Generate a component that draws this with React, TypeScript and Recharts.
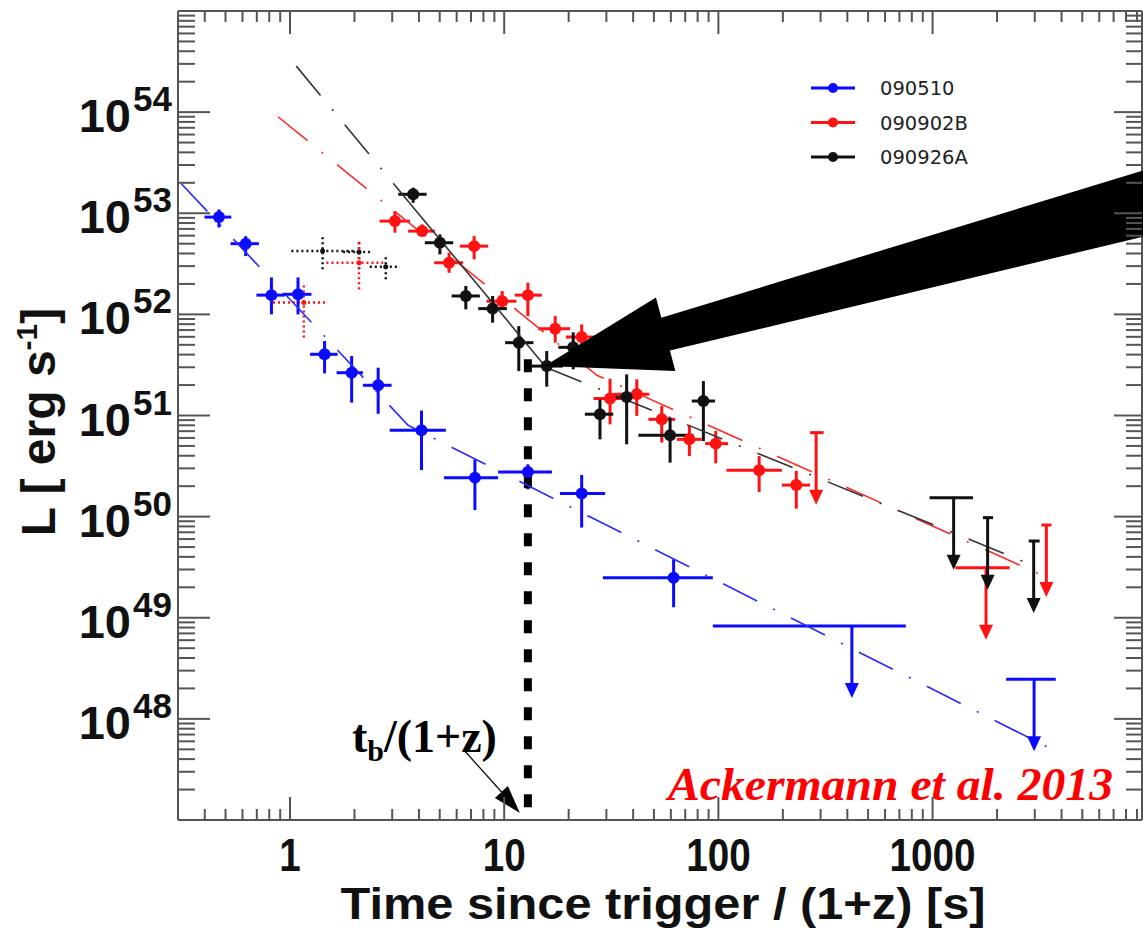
import React from "react";
import {
  ScatterChart,
  Scatter,
  XAxis,
  YAxis,
  ErrorBar,
  ReferenceLine,
  ReferenceDot,
} from "recharts";

// plot box (px), used for ticks drawn on the opposite frame sides
const PLOT_LEFT = 178;
const PLOT_RIGHT = 1142;
const PLOT_TOP = 11;
const PLOT_BOTTOM = 820;

const AXIS = "#555555";
const BLUE = "#0b0bff";
const RED = "#ff1212";
const BLACK = "#111111";
const SANS = "'Liberation Sans', Arial, sans-serif";

// [t, tLow, tHigh, L, LLow, LHigh]
const grb090510 = [
  [0.466, 0.399, 0.532, 9.16e52, 7.24e52, 1.09e53],
  [0.621, 0.528, 0.716, 5.0e52, 3.77e52, 5.94e52],
  [0.819, 0.697, 0.944, 1.55e52, 1.0e52, 2.32e52],
  [1.09, 0.924, 1.26, 1.58e52, 1.0e52, 2.32e52],
  [1.45, 1.24, 1.67, 4.03e51, 2.61e51, 5.45e51],
  [1.94, 1.65, 2.19, 2.65e51, 1.34e51, 3.87e51],
  [2.58, 2.19, 2.98, 1.99e51, 1.04e51, 2.97e51],
  [4.11, 2.92, 5.34, 7.13e50, 2.89e50, 1.12e51],
  [7.3, 5.23, 9.37, 2.43e50, 1.16e50, 3.68e50],
  [12.9, 9.37, 16.7, 2.76e50, 1.86e50, 3.29e50],
  [23.0, 18.2, 29.6, 1.69e50, 7.79e49, 2.58e50],
  [61.8, 28.9, 94.2, 2.49e49, 1.27e49, 3.79e49],
];

const grb090902B = [
  [3.09, 2.62, 3.63, 8.36e52, 6.42e52, 1.05e53],
  [4.14, 3.56, 4.74, 6.66e52, 5.94e52, 7.76e52],
  [5.53, 4.71, 6.43, 3.24e52, 2.58e52, 4.07e52],
  [7.24, 6.21, 8.42, 4.73e52, 3.5e52, 5.94e52],
  [9.79, 8.27, 11.4, 1.35e52, 1.12e52, 1.7e52],
  [12.9, 11.2, 15.0, 1.55e52, 9.62e51, 2.06e52],
  [17.3, 14.4, 20.3, 7.22e51, 5.25e51, 9.62e51],
  [23.0, 19.4, 27.1, 5.97e51, 4.51e51, 7.96e51],
  [31.2, 26.1, 37.3, 1.47e51, 8.18e50, 2.31e51],
  [41.6, 32.3, 47.6, 1.62e51, 9.88e50, 2.28e51],
  [54.4, 47.1, 62.8, 9.16e50, 5.39e50, 1.24e51],
  [73.2, 63.9, 83.6, 5.81e50, 3.97e50, 7.87e50],
  [97.2, 86.7, 111, 5.27e50, 3.37e50, 7.02e50],
  [155, 109, 198, 2.87e50, 1.75e50, 3.97e50],
  [231, 198, 268, 2.05e50, 1.2e50, 2.83e50],
];

const grb090926A = [
  [3.76, 3.2, 4.34, 1.54e53, 1.27e53, 1.79e53],
  [5.01, 4.26, 5.78, 5.11e52, 3.92e52, 6.18e52],
  [6.62, 5.68, 7.7, 1.52e52, 1.12e52, 1.91e52],
  [8.83, 7.56, 10.3, 1.14e52, 8.28e51, 1.52e52],
  [11.7, 10.1, 13.7, 5.25e51, 2.75e51, 7.66e51],
  [15.8, 13.4, 18.8, 3.08e51, 1.93e51, 4.34e51],
  [21.0, 17.9, 24.6, 4.72e51, 2.86e51, 6.64e51],
  [28.0, 23.8, 32.3, 1.03e51, 5.81e50, 1.44e51],
  [37.3, 31.8, 43.1, 1.52e51, 5.19e50, 2.55e51],
  [59.5, 42.3, 76.4, 6.37e50, 3.42e50, 9.53e50],
  [85.1, 75.1, 96.5, 1.39e51, 5.59e50, 2.19e51],
];

// dotted (prompt-phase) points, same layout
const dotted090926A = [
  [1.42, 1.015, 2.04, 4.23e52, 2.79e52, 5.94e52],
  [2.1, 1.77, 2.44, 4.13e52, 2.79e52, 5.31e52],
  [2.8, 2.36, 3.26, 2.96e52, 2.22e52, 3.92e52],
];
const dotted090902B = [
  [2.1, 1.48, 2.72, 3.24e52, 1.77e52, 5.31e52],
  [1.16, 0.833, 1.48, 1.31e52, 5.89e51, 2.06e52],
];

// upper limits [t, tLow, tHigh, L]
const ul090510 = [
  [420, 94.2, 750, 8.28e48],
  [2978, 2205, 3758, 2.46e48],
];
const ul090902B = [
  [286, 268, 310, 6.77e50],
  [1776, 1277, 2291, 3.13e49],
  [3398, 3221, 3589, 8.26e49],
];
const ul090926A = [
  [1254, 968, 1544, 1.54e50],
  [1807, 1720, 1915, 9.77e49],
  [2965, 2811, 3162, 5.74e49],
];

// fitted power laws [t, L]
const fit090510 = [
  [0.311, 1.96e53],
  [3.56, 8.0e50],
  [3608, 5.0e47],
];
const fit090902B = [
  [0.879, 9.0e53],
  [27.1, 2.5e51],
  [3303, 2.59e49],
];
const fit090926AEarly = [
  [1.07, 2.85e54],
  [3.6, 1.28e53],
];
const fit090926AMid = [
  [3.6, 1.28e53],
  [15.7, 2.99e51],
];
const fit090926ALate = [
  [15.7, 2.99e51],
  [3020, 3.23e49],
];

const T_BREAK = 12.9;
const T_BREAK_TOP = 3.6e51;

const X_LABELS = [1, 10, 100, 1000];
const X_DECADES = [0.1, 1, 10, 100, 1000];
const Y_DECADES = [1e47, 1e48, 1e49, 1e50, 1e51, 1e52, 1e53, 1e54];
const Y_LABEL_EXP = [48, 49, 50, 51, 52, 53, 54];

const legendItems = [
  { name: "090510", color: BLUE },
  { name: "090902B", color: RED },
  { name: "090926A", color: BLACK },
];

const X_MIN = 0.3;
const X_MAX = 9500;
const xTicks = X_DECADES.flatMap((d) =>
  [1, 2, 3, 4, 5, 6, 7, 8, 9].map((k) => k * d)
).filter((v) => v >= X_MIN - 1e-9 && v <= X_MAX);
const yTicks = [
  ...Y_DECADES.flatMap((d) => [1, 2, 3, 4, 5, 6, 7, 8, 9].map((k) => k * d)),
  1e55,
];

const toPoints = (rows: number[][]) =>
  rows.map(([t, tLo, tHi, L, LLo, LHi]) => ({
    t,
    L,
    ex: [t - tLo, tHi - t],
    ey: [L - LLo, LHi - L],
  }));

const toLimits = (rows: number[][]) =>
  rows.map(([t, tLo, tHi, L]) => ({ t, L, ex: [t - tLo, tHi - t] }));

const toLine = (rows: number[][]) => rows.map(([t, L]) => ({ t, L }));

const DASH_DOT = "38 18 2 18";

function XTick(props: any) {
  const { x, payload } = props;
  const v = payload.value;
  const major = X_LABELS.includes(v);
  const len = major ? 23 : 11;
  const label = String(v);
  return (
    <g>
      <line x1={x} x2={x} y1={PLOT_BOTTOM} y2={PLOT_BOTTOM - len} stroke={AXIS} strokeWidth={2} />
      <line x1={x} x2={x} y1={PLOT_TOP} y2={PLOT_TOP + len} stroke={AXIS} strokeWidth={2} />
      {major && (
        <text
          x={x}
          y={PLOT_BOTTOM + 51}
          textAnchor="middle"
          fontFamily={SANS}
          fontWeight={700}
          fontSize={46}
          fill="#111"
          textLength={label.length * 21.5}
          lengthAdjust="spacingAndGlyphs"
        >
          {label}
        </text>
      )}
    </g>
  );
}

function YTick(props: any) {
  const { y, payload } = props;
  const v = payload.value;
  const e = Math.round(Math.log10(v));
  const major = Math.abs(Math.log10(v) - e) < 1e-6;
  const lenL = major ? 32 : 17;
  const lenR = major ? 28 : 16;
  return (
    <g>
      <line x1={PLOT_LEFT} x2={PLOT_LEFT + lenL} y1={y} y2={y} stroke={AXIS} strokeWidth={2} />
      <line x1={PLOT_RIGHT} x2={PLOT_RIGHT - lenR} y1={y} y2={y} stroke={AXIS} strokeWidth={2} />
      {major && Y_LABEL_EXP.includes(e) && (
        <g fontFamily={SANS} fontWeight={700} fill="#111">
          <text x={131} y={y + 20} textAnchor="end" fontSize={47}>
            10
          </text>
          <text x={133} y={y - 1} textAnchor="start" fontSize={35}>
            {e}
          </text>
        </g>
      )}
    </g>
  );
}

const dotShape = (color: string, r: number) => (p: any) =>
  <circle cx={p.cx} cy={p.cy} r={r} fill={color} />;

const limitShape = (color: string) => (p: any) =>
  (
    <g>
      <line x1={p.cx} x2={p.cx} y1={p.cy} y2={p.cy + 60} stroke={color} strokeWidth={3} />
      <polygon
        points={`${p.cx - 7},${p.cy + 57} ${p.cx + 7},${p.cy + 57} ${p.cx},${p.cy + 72}`}
        fill={color}
      />
    </g>
  );

const noShape = () => <g />;

// big annotation arrow, tip on the break point
const bigArrow = (p: any) => {
  const tx = p.cx - 2;
  const ty = p.cy;
  const pts = [
    [0, 0],
    [130.6, 4.8],
    [125.2, -15.5],
    [704.9, -155.1],
    [687.5, -222.9],
    [116.6, -48.3],
    [111.2, -68.6],
  ]
    .map(([dx, dy]) => `${tx + dx},${ty + dy}`)
    .join(" ");
  return <polygon points={pts} fill="#000" />;
};

// t_b/(1+z) label with its thin arrow, anchored at the foot of the break line
const breakLabel = (p: any) => {
  const { cx, cy } = p;
  return (
    <g>
      <line x1={cx - 64} y1={cy - 70} x2={cx - 20} y2={cy - 21} stroke="#000" strokeWidth={1.2} />
      <polygon
        points={`${cx - 8},${cy - 7} ${cx - 20},${cy - 34} ${cx - 33},${cy - 22}`}
        fill="#000"
      />
      <text
        x={cx - 176}
        y={cy - 68}
        fontFamily="'Liberation Serif', 'DejaVu Serif', serif"
        fontWeight={700}
        fontSize={46}
        fill="#000"
      >
        t
        <tspan fontSize={30} dy={9}>
          b
        </tspan>
        <tspan dy={-9}>/(1+z)</tspan>
      </text>
    </g>
  );
};

export default function App() {
  const blue = toPoints(grb090510);
  const red = toPoints(grb090902B);
  const black = toPoints(grb090926A);

  return (
    <div
      style={{
        position: "absolute",
        left: 0,
        top: 0,
        width: 1143,
        height: 930,
        overflow: "hidden",
        background: "#fff",
      }}
    >
      <ScatterChart
        width={1150}
        height={930}
        margin={{ top: PLOT_TOP, right: 1150 - PLOT_RIGHT, bottom: 0, left: 0 }}
      >
        <XAxis
          type="number"
          dataKey="t"
          scale="log"
          domain={[X_MIN, X_MAX]}
          allowDataOverflow
          ticks={xTicks}
          interval={0}
          tick={XTick}
          tickLine={false}
          tickSize={0}
          tickMargin={0}
          height={110}
          axisLine={{ stroke: AXIS, strokeWidth: 2 }}
        />
        <YAxis
          type="number"
          dataKey="L"
          scale="log"
          domain={[1e47, 1e55]}
          allowDataOverflow
          ticks={yTicks}
          interval={0}
          tick={YTick}
          tickLine={false}
          tickSize={0}
          tickMargin={0}
          width={PLOT_LEFT}
          axisLine={{ stroke: AXIS, strokeWidth: 2 }}
        />
        <ReferenceLine y={1e55} stroke={AXIS} strokeWidth={2} />
        <ReferenceLine x={X_MAX} stroke={AXIS} strokeWidth={2} />

        <Scatter
          data={toLine(fit090510)}
          line={{ stroke: "#2a2aff", strokeWidth: 1.6, strokeDasharray: DASH_DOT }}
          shape={noShape}
          isAnimationActive={false}
        />
        <Scatter
          data={toLine(fit090902B)}
          line={{ stroke: "#ff2a2a", strokeWidth: 1.6, strokeDasharray: DASH_DOT }}
          shape={noShape}
          isAnimationActive={false}
        />
        <Scatter
          data={toLine(fit090926AEarly)}
          line={{ stroke: "#333", strokeWidth: 1.6, strokeDasharray: DASH_DOT }}
          shape={noShape}
          isAnimationActive={false}
        />
        <Scatter
          data={toLine(fit090926AMid)}
          line={{ stroke: "#333", strokeWidth: 1.6 }}
          shape={noShape}
          isAnimationActive={false}
        />
        <Scatter
          data={toLine(fit090926ALate)}
          line={{ stroke: "#333", strokeWidth: 1.6, strokeDasharray: DASH_DOT }}
          shape={noShape}
          isAnimationActive={false}
        />

        <Scatter data={toPoints(dotted090926A)} shape={dotShape(BLACK, 2.5)} isAnimationActive={false}>
          <ErrorBar dataKey="ex" direction="x" width={0} stroke={BLACK} strokeWidth={2.5} strokeDasharray="2 3" />
          <ErrorBar dataKey="ey" direction="y" width={0} stroke={BLACK} strokeWidth={2.5} strokeDasharray="2 3" />
        </Scatter>
        <Scatter data={toPoints(dotted090902B)} shape={dotShape(RED, 2.5)} isAnimationActive={false}>
          <ErrorBar dataKey="ex" direction="x" width={0} stroke={RED} strokeWidth={2.5} strokeDasharray="2 3" />
          <ErrorBar dataKey="ey" direction="y" width={0} stroke={RED} strokeWidth={2.5} strokeDasharray="2 3" />
        </Scatter>

        <Scatter data={blue} shape={dotShape(BLUE, 6)} isAnimationActive={false}>
          <ErrorBar dataKey="ex" direction="x" width={0} stroke={BLUE} strokeWidth={3} />
          <ErrorBar dataKey="ey" direction="y" width={0} stroke={BLUE} strokeWidth={3} />
        </Scatter>
        <Scatter data={red} shape={dotShape(RED, 6)} isAnimationActive={false}>
          <ErrorBar dataKey="ex" direction="x" width={0} stroke={RED} strokeWidth={3} />
          <ErrorBar dataKey="ey" direction="y" width={0} stroke={RED} strokeWidth={3} />
        </Scatter>
        <Scatter data={black} shape={dotShape(BLACK, 6)} isAnimationActive={false}>
          <ErrorBar dataKey="ex" direction="x" width={0} stroke={BLACK} strokeWidth={3} />
          <ErrorBar dataKey="ey" direction="y" width={0} stroke={BLACK} strokeWidth={3} />
        </Scatter>

        <Scatter data={toLimits(ul090510)} shape={limitShape(BLUE)} isAnimationActive={false}>
          <ErrorBar dataKey="ex" direction="x" width={0} stroke={BLUE} strokeWidth={3} />
        </Scatter>
        <Scatter data={toLimits(ul090902B)} shape={limitShape(RED)} isAnimationActive={false}>
          <ErrorBar dataKey="ex" direction="x" width={0} stroke={RED} strokeWidth={3} />
        </Scatter>
        <Scatter data={toLimits(ul090926A)} shape={limitShape(BLACK)} isAnimationActive={false}>
          <ErrorBar dataKey="ex" direction="x" width={0} stroke={BLACK} strokeWidth={3} />
        </Scatter>

        <ReferenceLine
          segment={[
            { x: T_BREAK, y: T_BREAK_TOP },
            { x: T_BREAK, y: 1e47 },
          ]}
          stroke="#000"
          strokeWidth={8}
          strokeDasharray="13 16"
        />
        <ReferenceDot x={T_BREAK} y={1e47} ifOverflow="visible" shape={breakLabel} />
        <ReferenceDot x={15.8} y={3.08e51} ifOverflow="visible" shape={bigArrow} />
      </ScatterChart>

      <svg
        width={1143}
        height={930}
        style={{ position: "absolute", left: 0, top: 0, pointerEvents: "none" }}
      >
        {legendItems.map((it, i) => {
          const y = 88 + i * 34.5;
          return (
            <g key={it.name}>
              <line x1={811} x2={855} y1={y} y2={y} stroke={it.color} strokeWidth={3} />
              <circle cx={833} cy={y} r={5} fill={it.color} />
              <text
                x={880}
                y={y + 7}
                fontFamily="'DejaVu Sans', sans-serif"
                fontSize={19.5}
                fill="#222"
              >
                {it.name}
              </text>
            </g>
          );
        })}
        <text
          x={663}
          y={919}
          textAnchor="middle"
          fontFamily={SANS}
          fontWeight={700}
          fontSize={44}
          fill="#111"
          textLength={645}
          lengthAdjust="spacingAndGlyphs"
        >
          Time since trigger / (1+z) [s]
        </text>
        <text
          transform="translate(55,422) rotate(-90)"
          textAnchor="middle"
          fontFamily={SANS}
          fontWeight={700}
          fontSize={48}
          fill="#111"
        >
          L [ erg s
          <tspan fontSize={30} dy={-18}>
            -1
          </tspan>
          <tspan dy={18}>]</tspan>
        </text>
        <text
          x={668}
          y={800}
          fill="#ff0000"
          fontFamily="'Liberation Serif', 'DejaVu Serif', serif"
          fontStyle="italic"
          fontWeight={700}
          fontSize={46}
          textLength={445}
          lengthAdjust="spacingAndGlyphs"
        >
          Ackermann et al. 2013
        </text>
      </svg>
    </div>
  );
}
